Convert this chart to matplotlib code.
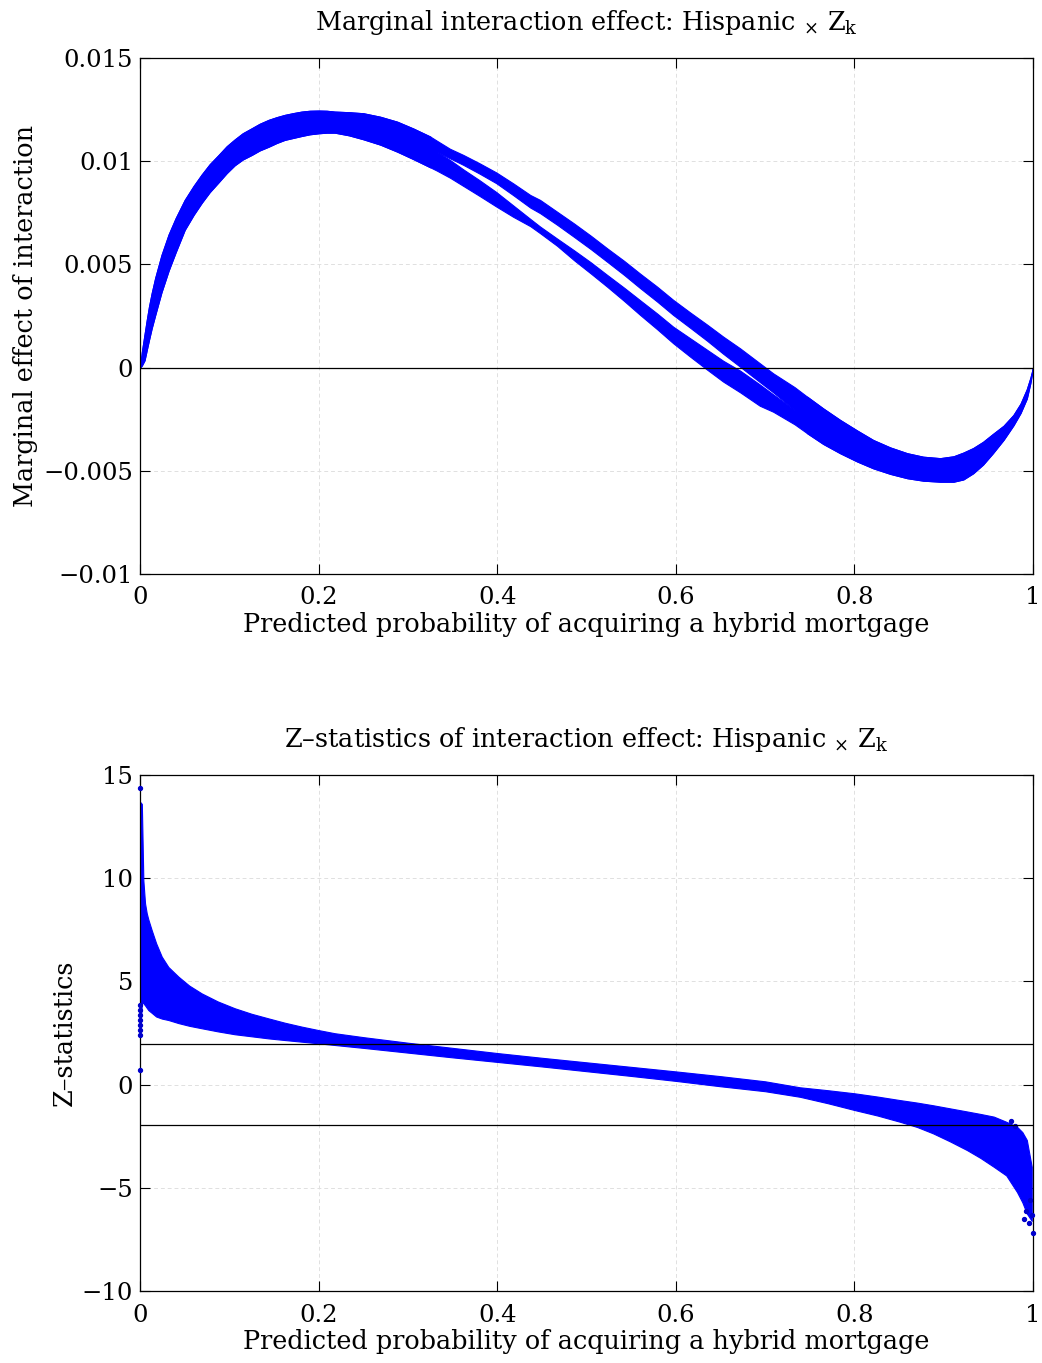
import numpy as np
import matplotlib
matplotlib.use('Agg')
import matplotlib.pyplot as plt
from matplotlib.ticker import FuncFormatter

plt.rcParams['font.family'] = ['DejaVu Serif']
plt.rcParams['mathtext.fontset'] = 'dejavuserif'

#***** Top panel: marginal interaction effect (band edges, units of 1e-3) *****
x_me = [0, 0.002, 0.005, 0.0075, 0.01, 0.013, 0.017, 0.024, 0.032, 0.04, 0.05, 0.06,
        0.069, 0.078, 0.088, 0.097, 0.106, 0.115, 0.125, 0.134, 0.144, 0.153, 0.162,
        0.172, 0.181, 0.19, 0.2, 0.209, 0.218, 0.234, 0.25, 0.269, 0.288, 0.306, 0.325,
        0.332, 0.347, 0.362, 0.38, 0.399, 0.418, 0.437, 0.448, 0.467, 0.486, 0.505,
        0.523, 0.542, 0.56, 0.579, 0.597, 0.616, 0.635, 0.653, 0.672, 0.694, 0.709,
        0.733, 0.747, 0.765, 0.784, 0.803, 0.821, 0.84, 0.859, 0.877, 0.896, 0.911,
        0.922, 0.933, 0.944, 0.955, 0.967, 0.978, 0.986, 0.993, 0.997, 1.0]
# upper group
me_a_top = [0, 0.75, 1.6, 2.3, 2.95, 3.6, 4.35, 5.45, 6.45, 7.25, 8.12, 8.8,
            9.35, 9.85, 10.3, 10.72, 11.05, 11.35, 11.59, 11.81, 12.0, 12.13, 12.24,
            12.33, 12.40, 12.44, 12.45, 12.44, 12.40, 12.37, 12.32, 12.15, 11.91, 11.58, 11.19,
            11.0, 10.6, 10.3, 9.9, 9.45, 8.92, 8.36, 8.12, 7.55, 6.98, 6.38,
            5.78, 5.17, 4.55, 3.92, 3.28, 2.67, 2.08, 1.5, 0.93, 0.21, -0.28,
            -0.95, -1.41, -1.98, -2.54, -3.05, -3.51, -3.87, -4.15, -4.32, -4.39, -4.3,
            -4.12, -3.9, -3.6, -3.22, -2.82, -2.3, -1.75, -1.05, -0.5, 0]
me_a_bot = [0, 0.1, 0.35, 0.85, 1.34, 1.9, 2.55, 3.65, 4.7, 5.6, 6.67, 7.4,
            7.98, 8.5, 8.98, 9.42, 9.8, 10.08, 10.30, 10.52, 10.70, 10.88, 11.03,
            11.13, 11.22, 11.30, 11.35, 11.38, 11.38, 11.25, 11.06, 10.8, 10.46, 10.1, 9.7,
            10.46, 10.14, 9.82, 9.4, 8.93, 8.35, 7.75, 7.48, 6.92, 6.33, 5.73,
            5.13, 4.49, 3.85, 3.2, 2.55, 1.93, 1.3, 0.67, 0.04, -0.70, -1.2,
            -2.05, -3.18, -3.7, -4.15, -4.55, -4.88, -5.15, -5.36, -5.48, -5.53, -5.53,
            -5.42, -5.12, -4.7, -4.15, -3.5, -2.8, -2.2, -1.5, -0.75, 0]
# lower group
me_b_top = [0, 0.75, 1.6, 2.3, 2.95, 3.6, 4.35, 5.45, 6.45, 7.25, 8.12, 8.8,
            9.35, 9.85, 10.3, 10.72, 11.05, 11.35, 11.59, 11.81, 12.0, 12.13, 12.24,
            12.33, 12.40, 12.44, 12.45, 12.44, 12.40, 12.37, 12.32, 12.15, 11.91, 11.58, 11.19,
            10.46, 10.06, 9.6, 9.08, 8.5, 7.85, 7.2, 6.83, 6.25, 5.68, 5.09,
            4.49, 3.87, 3.26, 2.62, 1.98, 1.42, 0.86, 0.33, -0.15, -0.82, -1.3,
            -2.05, -1.41, -1.98, -2.54, -3.05, -3.51, -3.87, -4.15, -4.32, -4.39, -4.3,
            -4.12, -3.9, -3.6, -3.22, -2.82, -2.3, -1.75, -1.05, -0.5, 0]
me_b_bot = [0, 0.1, 0.35, 0.85, 1.34, 1.9, 2.55, 3.65, 4.7, 5.6, 6.67, 7.4,
            7.98, 8.5, 8.98, 9.42, 9.8, 10.08, 10.30, 10.52, 10.70, 10.88, 11.03,
            11.13, 11.22, 11.30, 11.35, 11.38, 11.38, 11.25, 11.06, 10.8, 10.46, 10.1, 9.7,
            9.55, 9.2, 8.8, 8.32, 7.8, 7.3, 6.85, 6.51, 5.9, 5.2, 4.55,
            3.92, 3.23, 2.55, 1.86, 1.18, 0.53, -0.1, -0.68, -1.2, -1.85, -2.14,
            -2.75, -3.18, -3.7, -4.15, -4.55, -4.88, -5.15, -5.36, -5.48, -5.53, -5.53,
            -5.42, -5.12, -4.7, -4.15, -3.5, -2.8, -2.2, -1.5, -0.75, 0]

#***** Bottom panel: z-statistics band edges *****
x_z = [0, 0.002, 0.0037, 0.0056, 0.0075, 0.0093, 0.013, 0.018, 0.0243, 0.0317, 0.043,
       0.055, 0.069, 0.087, 0.106, 0.125, 0.1437, 0.162, 0.181, 0.2, 0.218, 0.25, 0.3,
       0.35, 0.4, 0.45, 0.5, 0.55, 0.6, 0.65, 0.7, 0.739, 0.77, 0.8, 0.826, 0.851, 0.87,
       0.888, 0.907, 0.926, 0.941, 0.956, 0.970, 0.982, 0.988, 0.993, 0.9985]
z_top = [13.7, 13.6, 9.9, 8.78, 8.3, 8.0, 7.49, 6.85, 6.2, 5.7, 5.23,
         4.8, 4.42, 4.03, 3.70, 3.43, 3.21, 3.0, 2.81, 2.64, 2.49, 2.3, 2.03,
         1.78, 1.53, 1.3, 1.08, 0.86, 0.64, 0.41, 0.16, -0.13, -0.27, -0.42, -0.58, -0.75, -0.87,
         -1.0, -1.15, -1.3, -1.42, -1.55, -1.8, -2.04, -2.3, -2.68, -3.98]
z_bot = [2.35, 4.0, 3.94, 3.84, 3.72, 3.61, 3.48, 3.3, 3.2, 3.13, 2.98,
         2.85, 2.73, 2.58, 2.44, 2.34, 2.24, 2.16, 2.08, 2.0, 1.92, 1.78, 1.55,
         1.32, 1.1, 0.88, 0.65, 0.42, 0.18, -0.08, -0.32, -0.59, -0.9, -1.23, -1.5, -1.8, -2.05,
         -2.36, -2.75, -3.17, -3.55, -3.98, -4.4, -5.2, -5.7, -6.24, -6.6]
# isolated points
z_pts_x = [0, 0, 0, 0, 0, 0, 0, 0, 0, 0.99, 0.992, 0.995, 0.997, 0.999, 1.0, 0.975, 0.98]
z_pts_y = [14.35, 3.86, 3.61, 3.37, 3.13, 2.89, 2.65, 2.40, 0.71, -6.5, -6.1, -6.7, -5.6,
           -6.3, -7.2, -1.75, -2.0]

xticks = [0, 0.2, 0.4, 0.6, 0.8, 1]
me_yticks = [-0.01, -0.005, 0, 0.005, 0.01, 0.015]
z_yticks = [-10, -5, 0, 5, 10, 15]
xlab = 'Predicted probability of acquiring a hybrid mortgage'

fmt = FuncFormatter(lambda v, p: ('%g' % v).replace('-', '\u2212'))

fig = plt.figure(figsize=(10.42, 13.63), dpi=100)
ax1 = fig.add_axes([0.1344, 0.5789, 0.857, 0.3786])
ax2 = fig.add_axes([0.1344, 0.0528, 0.857, 0.3786])

def style(ax):
    ax.set_xlim(0, 1)
    ax.set_xticks(xticks)
    ax.xaxis.set_major_formatter(fmt)
    ax.yaxis.set_major_formatter(fmt)
    ax.tick_params(direction='in', top=True, right=True, length=7, width=0.8,
                   labelsize=17.5)
    ax.tick_params(axis='x', pad=9)
    ax.tick_params(axis='y', pad=5)
    ax.grid(True, ls=(0, (4, 3)), color='#e0e0e0', lw=0.7)
    ax.set_axisbelow(True)
    for s in ax.spines.values():
        s.set_linewidth(0.9)
    ax.set_xlabel(xlab, fontsize=18.4, labelpad=2)

xm = np.array(x_me)
sc = 1e-3
ax1.fill_between(xm, np.array(me_a_bot) * sc, np.array(me_a_top) * sc,
                 color='blue', lw=0.8, zorder=2)
ax1.fill_between(xm, np.array(me_b_bot) * sc, np.array(me_b_top) * sc,
                 color='blue', lw=0.8, zorder=2)
ax1.axhline(0, color='black', lw=0.9, zorder=3)
ax1.set_ylim(-0.01, 0.015)
ax1.set_yticks(me_yticks)
style(ax1)
ax1.set_ylabel('Marginal effect of interaction', fontsize=18.4, labelpad=4)
ax1.set_title(r'Marginal interaction effect: Hispanic $_{\times}$ Z$_{\mathrm{k}}$',
              fontsize=18.4, pad=20)

ax2.fill_between(x_z, z_bot, z_top, color='blue', lw=0.8, zorder=2)
ax2.scatter(z_pts_x, z_pts_y, s=8, color='#0000cc', zorder=3, clip_on=False)
ax2.axhline(1.96, color='black', lw=0.9, zorder=3)
ax2.axhline(-1.96, color='black', lw=0.9, zorder=3)
ax2.set_ylim(-10, 15)
ax2.set_yticks(z_yticks)
style(ax2)
ax2.set_ylabel('Z\u2013statistics', fontsize=18.4, labelpad=3.5)
ax2.set_title('Z\u2013statistics of interaction effect: Hispanic $_{\\times}$ Z$_{\\mathrm{k}}$',
              fontsize=18.4, pad=20)

fig.savefig('out.png', dpi=100)
